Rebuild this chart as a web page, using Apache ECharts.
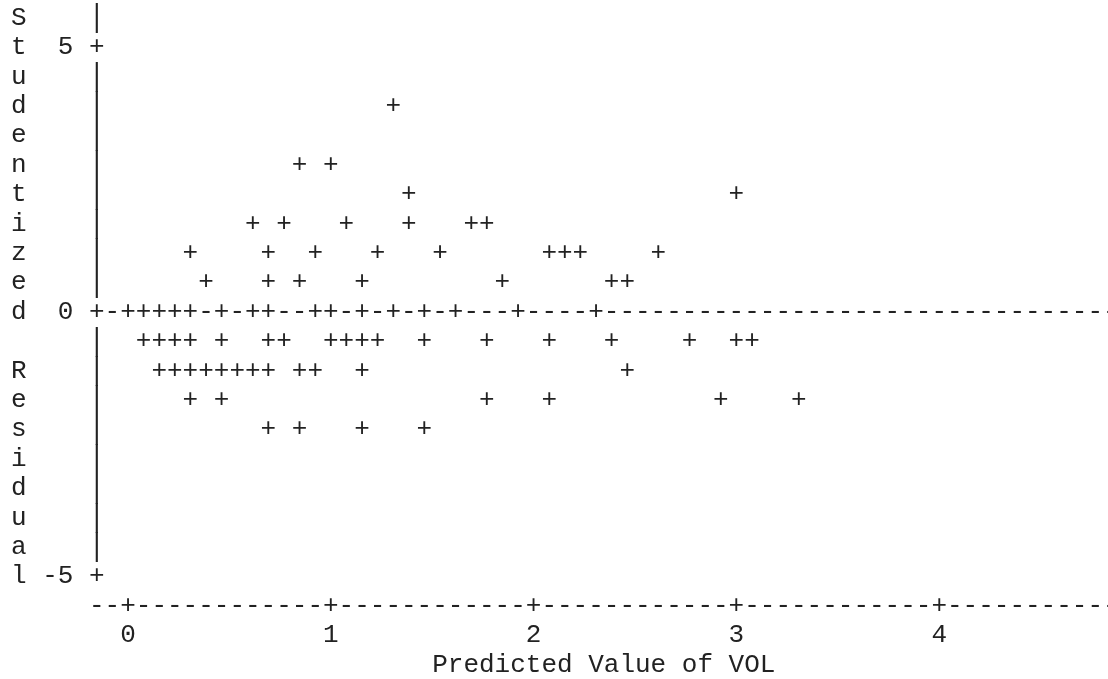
<!DOCTYPE html>
<html>
<head>
<meta charset="utf-8">
<title>Studentized Residual vs Predicted Value of VOL</title>
<script src="https://cdn.jsdelivr.net/npm/echarts@6/dist/echarts.min.js"></script>
<style>
  html, body { margin: 0; padding: 0; background: #ffffff; }
  #chart { width: 1108px; height: 679px; }
</style>
</head>
<body>
<div id="chart"></div>
<script>
// Predicted value of VOL for each observation
const predicted = [
  1.31,
  0.85, 1.00,
  1.38, 3.00,
  0.62, 0.77, 1.08, 1.38, 1.69, 1.77,
  0.31, 0.69, 0.92, 1.23, 1.54, 2.08, 2.15, 2.23, 2.62,
  0.38, 0.69, 0.85, 1.15, 1.85, 2.38, 2.46,
  0.00, 0.08, 0.15, 0.23, 0.31, 0.46, 0.62, 0.69, 0.92, 1.00, 1.15, 1.31, 1.46, 1.62, 1.92, 2.31,
  0.08, 0.15, 0.23, 0.31, 0.46, 0.69, 0.77, 1.00, 1.08, 1.15, 1.23, 1.46, 1.77, 2.08, 2.38, 2.77, 3.00, 3.08,
  0.15, 0.23, 0.31, 0.38, 0.46, 0.54, 0.62, 0.69, 0.85, 0.92, 1.15, 2.46,
  0.31, 0.46, 1.77, 2.08, 2.92, 3.31,
  0.69, 0.85, 1.15, 1.46
];

// Studentized residual for each observation
const residual = [
  3.89,
  2.78, 2.78,
  2.22, 2.22,
  1.67, 1.67, 1.67, 1.67, 1.67, 1.67,
  1.11, 1.11, 1.11, 1.11, 1.11, 1.11, 1.11, 1.11, 1.11,
  0.56, 0.56, 0.56, 0.56, 0.56, 0.56, 0.56,
  0, 0, 0, 0, 0, 0, 0, 0, 0, 0, 0, 0, 0, 0, 0, 0,
  -0.56, -0.56, -0.56, -0.56, -0.56, -0.56, -0.56, -0.56, -0.56, -0.56, -0.56, -0.56, -0.56, -0.56, -0.56, -0.56, -0.56, -0.56,
  -1.11, -1.11, -1.11, -1.11, -1.11, -1.11, -1.11, -1.11, -1.11, -1.11, -1.11, -1.11,
  -1.67, -1.67, -1.67, -1.67, -1.67, -1.67,
  -2.22, -2.22, -2.22, -2.22
];

const xTicks = [0, 1, 2, 3, 4];
const yTicks = [-5, 0, 5];
const refLine = 0;
const xTitle = 'Predicted Value of VOL';
const yTitle = 'Studentized Residual';

// Line-printer page: every mark sits in a fixed character cell
const CHAR_W = 15.6;
const LINE_H = 29.4;
const COL0 = 18.8;          // centre of the first print column
const ROW0 = 18;            // centre of the first print line
const AXIS_COL = 5;         // column of the vertical axis
const AXIS_ROW = 20;        // line of the horizontal axis
const LAST_COL = 70;
const ZERO_COL = 7;         // column where x = 0
const ZERO_ROW = 10;        // line where y = 0
const COLS_PER_UNIT = 13;
const ROWS_PER_UNIT = 9 / 5;

const FONT_FAMILY = '"Liberation Mono", "Courier New", monospace';
const FONT_SIZE = 26;
const FONT = FONT_SIZE + 'px ' + FONT_FAMILY;
const INK = '#222222';
const BAR_STRETCH = 1.2;    // vertical bars almost join from line to line

const xMin = (AXIS_COL - ZERO_COL) / COLS_PER_UNIT;
const xMax = (LAST_COL - ZERO_COL) / COLS_PER_UNIT;
const yMax = ZERO_ROW / ROWS_PER_UNIT;
const yMin = -(AXIS_ROW - ZERO_ROW) / ROWS_PER_UNIT;

function glyph(x, y, ch) {
  return {
    type: 'text',
    x: x,
    y: y,
    scaleY: ch === '|' ? BAR_STRETCH : 1,
    silent: true,
    style: { text: ch, font: FONT, fill: INK, align: 'center', verticalAlign: 'middle' }
  };
}

// Print cell (column, line) that a data value falls into
function cellOf(api, cs, xv, yv) {
  const p = api.coord([xv, yv]);
  return [Math.round((p[0] - cs.x) / CHAR_W), Math.round((p[1] - cs.y) / LINE_H)];
}

// Axis frame and the reference line, drawn with '|', '-' and '+' characters
function renderFrame(params, api) {
  const cs = params.coordSys;
  const nCols = Math.round(cs.width / CHAR_W);
  const nRows = Math.round(cs.height / LINE_H);
  const tickRows = yTicks.map(function (t) { return cellOf(api, cs, 0, t)[1]; });
  const tickCols = xTicks.map(function (t) { return cellOf(api, cs, t, 0)[0]; });
  const used = {};
  predicted.forEach(function (v, i) {
    const c = cellOf(api, cs, v, residual[i]);
    used[c[0] + ',' + c[1]] = true;
  });
  const children = [];

  for (let r = 0; r < nRows; r++) {
    children.push(glyph(cs.x, cs.y + r * LINE_H, tickRows.indexOf(r) >= 0 ? '+' : '|'));
  }
  for (let c = 0; c <= nCols; c++) {
    children.push(glyph(cs.x + c * CHAR_W, cs.y + nRows * LINE_H, tickCols.indexOf(c) >= 0 ? '+' : '-'));
  }
  const refRow = cellOf(api, cs, 0, refLine)[1];
  for (let c = 1; c <= nCols; c++) {
    if (!used[c + ',' + refRow]) {
      children.push(glyph(cs.x + c * CHAR_W, cs.y + refRow * LINE_H, '-'));
    }
  }
  return { type: 'group', children: children };
}

// One '+' per observation, placed in its print cell
function renderPoint(params, api) {
  const cs = params.coordSys;
  const c = cellOf(api, cs, api.value(0), api.value(1));
  return glyph(cs.x + c[0] * CHAR_W, cs.y + c[1] * LINE_H, '+');
}

const points = predicted.map(function (v, i) { return [v, residual[i]]; });

const textBase = { fontFamily: FONT_FAMILY, fontSize: FONT_SIZE, color: INK };

const option = {
  animation: false,
  backgroundColor: '#ffffff',
  grid: {
    left: COL0 + AXIS_COL * CHAR_W,
    top: ROW0,
    width: (LAST_COL - AXIS_COL) * CHAR_W,
    height: AXIS_ROW * LINE_H,
    outerBoundsMode: 'none',
    containLabel: false
  },
  xAxis: {
    type: 'value',
    min: xMin,
    max: xMax,
    axisLine: { show: false },
    axisTick: { show: false },
    splitLine: { show: false },
    axisLabel: Object.assign({
      customValues: xTicks,
      margin: LINE_H,
      verticalAlign: 'middle',
      align: 'center'
    }, textBase),
    name: xTitle,
    nameLocation: 'middle',
    nameGap: 2 * LINE_H,
    nameMoveOverlap: false,
    nameTextStyle: Object.assign({ align: 'center', verticalAlign: 'middle' }, textBase)
  },
  yAxis: {
    type: 'value',
    min: yMin,
    max: yMax,
    axisLine: { show: false },
    axisTick: { show: false },
    splitLine: { show: false },
    axisLabel: Object.assign({
      customValues: yTicks,
      margin: 1.5 * CHAR_W,
      align: 'right',
      verticalAlign: 'middle'
    }, textBase),
    // title printed one letter per line down the left margin
    name: yTitle.split('').join('\n') + '\n ',
    nameLocation: 'middle',
    nameRotate: 0,
    nameGap: AXIS_COL * CHAR_W,
    nameMoveOverlap: false,
    nameTextStyle: Object.assign({ align: 'center', verticalAlign: 'middle', lineHeight: LINE_H }, textBase)
  },
  series: [
    {
      type: 'custom',
      name: 'frame',
      coordinateSystem: 'cartesian2d',
      data: [[0, 0]],
      renderItem: renderFrame,
      silent: true,
      z: 2
    },
    {
      type: 'custom',
      name: 'Studentized Residual',
      coordinateSystem: 'cartesian2d',
      data: points,
      encode: { x: 0, y: 1 },
      renderItem: renderPoint,
      silent: true,
      z: 3
    }
  ]
};

const chart = echarts.init(document.getElementById('chart'), null, { renderer: 'canvas' });
chart.setOption(option);
</script>
</body>
</html>
